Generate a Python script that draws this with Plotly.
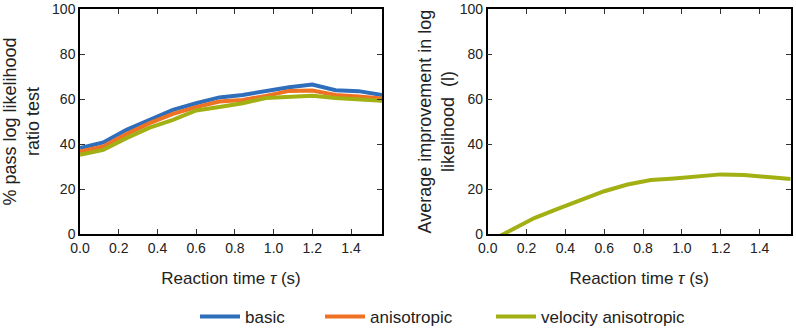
import plotly.graph_objects as go

tau = [0.0, 0.12, 0.24, 0.36, 0.48, 0.60, 0.72, 0.84, 0.96, 1.08, 1.20, 1.32, 1.44, 1.56]

basic = [38.2, 40.7, 46.3, 50.7, 55.2, 58.1, 60.7, 61.8, 63.6, 65.2, 66.4, 63.9, 63.5, 61.8]
anisotropic = [36.7, 38.9, 44.4, 49.3, 53.4, 56.4, 58.9, 59.6, 61.4, 63.6, 63.8, 61.8, 61.1, 60.2]
velocity_anisotropic = [35.2, 37.4, 42.6, 47.3, 50.7, 54.9, 56.4, 58.1, 60.4, 60.7, 61.4, 60.4, 59.9, 59.2]

improvement = [-3.7, 1.8, 7.1, 11.2, 15.2, 19.0, 22.0, 24.0, 24.7, 25.8, 26.5, 26.2, 25.3, 24.4]

series_names = ["basic", "anisotropic", "velocity anisotropic"]
colors = ["#2F6EBA", "#EE7124", "#A2B014"]

FONT = "Liberation Sans, Arial, Helvetica, sans-serif"

fig = go.Figure()
legend_ids = ["legend", "legend2", "legend3"]
for name, vals, col, lg in zip(series_names, [basic, anisotropic, velocity_anisotropic], colors, legend_ids):
    fig.add_trace(go.Scatter(x=tau, y=vals, mode="lines", name=name,
                             line=dict(color=col, width=4),
                             xaxis="x", yaxis="y", legend=lg))

fig.add_trace(go.Scatter(x=tau, y=improvement, mode="lines", name="velocity anisotropic",
                         line=dict(color=colors[2], width=4),
                         xaxis="x2", yaxis="y2", showlegend=False))

W, H = 796, 332
axis_common = dict(showline=True, linecolor="black", linewidth=1.5, mirror="allticks",
                   ticks="inside", ticklen=5, tickwidth=1, tickcolor="#333",
                   showgrid=False, zeroline=False, automargin=False,
                   tickfont=dict(family=FONT, size=14, color="#222"))

xcommon = dict(axis_common, range=[0, 1.56], dtick=0.2, tick0=0, tickformat=".1f",
               title=dict(text="Reaction time <i>τ</i> (s)", font=dict(family=FONT, size=17, color="#222"),
                          standoff=18))
ycommon = dict(axis_common, range=[0, 100], dtick=20, tick0=0)

fig.update_layout(
    width=W, height=H,
    margin=dict(l=0, r=0, t=0, b=0, autoexpand=False),
    plot_bgcolor="white", paper_bgcolor="white",
    font=dict(family=FONT, color="#222"),
    xaxis=dict(xcommon, domain=[80 / W, 382 / W], anchor="y"),
    yaxis=dict(ycommon, domain=[98 / H, 323 / H], anchor="x",
               title=dict(text="% pass log likelihood<br>ratio test",
                          font=dict(family=FONT, size=18, color="#222"), standoff=10)),
    xaxis2=dict(xcommon, domain=[487.7 / W, 790.7 / W], anchor="y2"),
    yaxis2=dict(ycommon, domain=[98 / H, 323 / H], anchor="x2",
                title=dict(text="Average improvement in log<br>likelihood  (l)",
                           font=dict(family=FONT, size=18, color="#222"), standoff=0)),
)

swatch_x = [199, 324, 495]
for lg, xpx in zip(legend_ids, swatch_x):
    fig.update_layout({lg: dict(orientation="h", x=(xpx - 4) / W, y=(H - 317) / H,
                                xanchor="left", yanchor="middle",
                                bgcolor="rgba(0,0,0,0)", itemwidth=40,
                                font=dict(family=FONT, size=17, color="#222"))})

fig.write_html("out.html", config={"displayModeBar": False},
               post_script="document.body.style.margin='0';document.body.style.overflow='hidden';")
